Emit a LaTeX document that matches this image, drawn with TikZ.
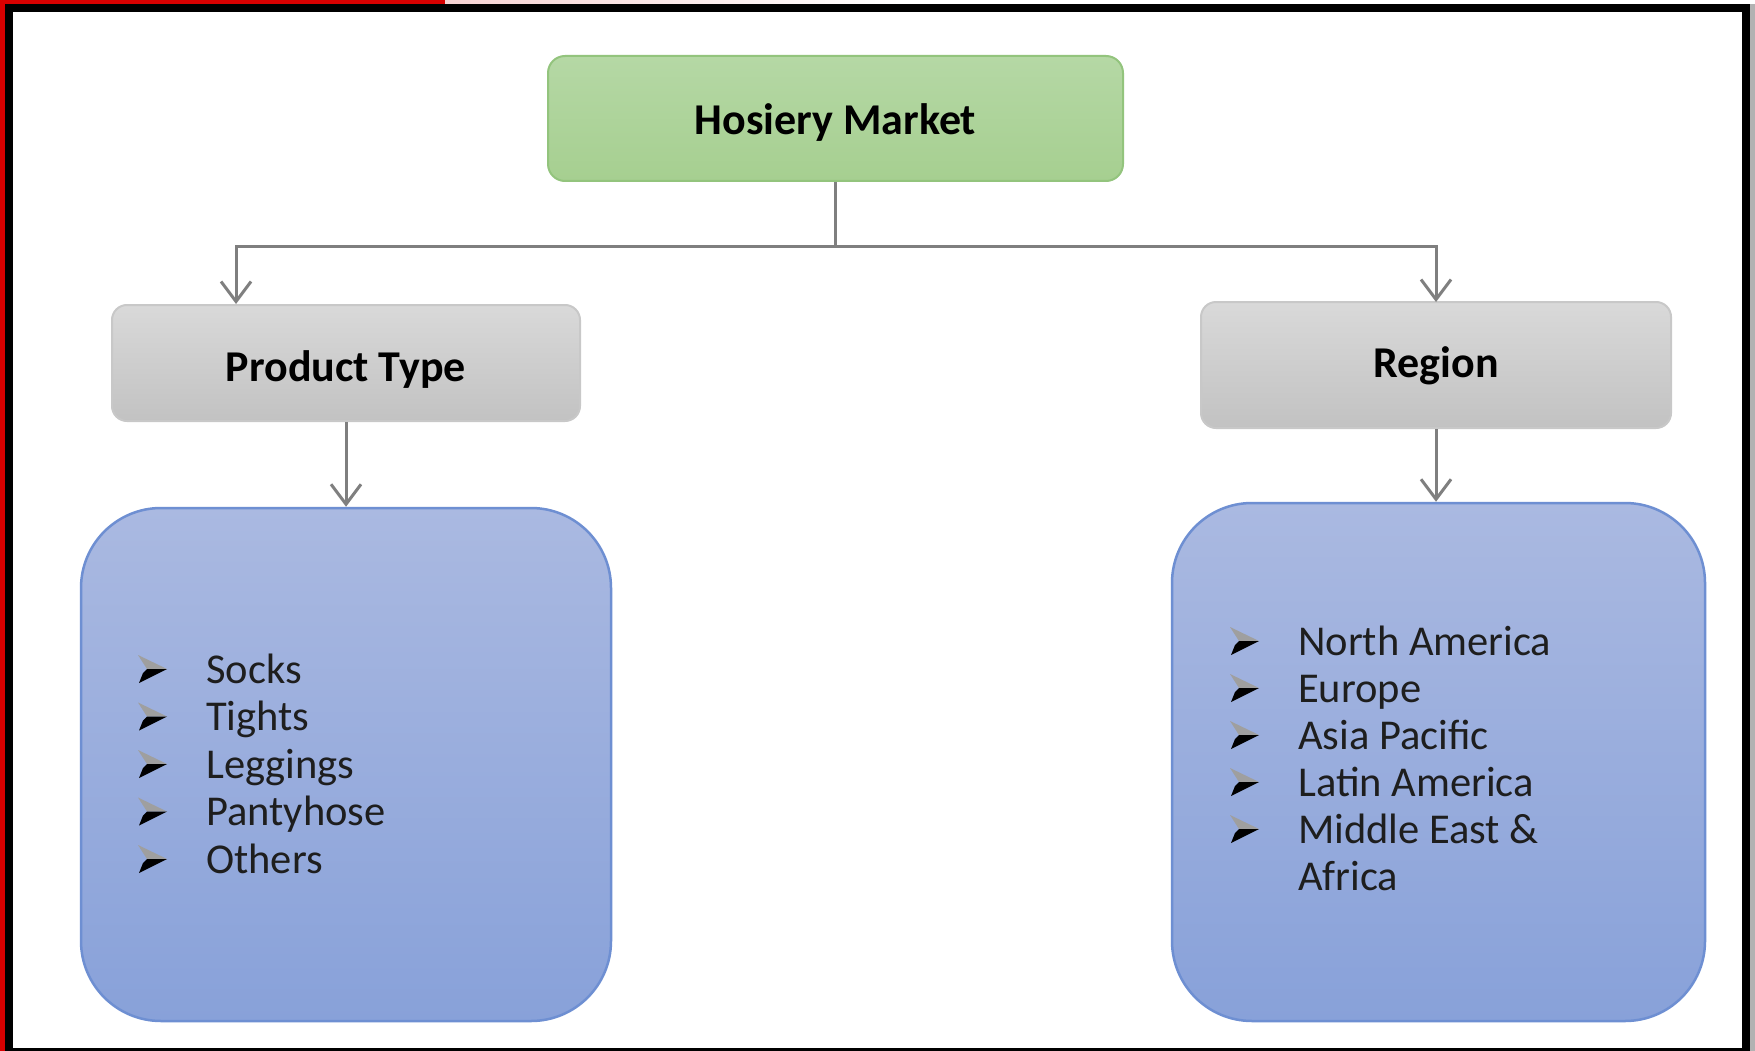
\documentclass[tikz,border=0pt]{standalone}
\usepackage{fontspec}
\setmainfont{Carlito}
\usetikzlibrary{arrows.meta,calc}
\definecolor{grnfillA}{HTML}{B5D8A5}
\definecolor{grnfillB}{HTML}{A6CF90}
\definecolor{grnline}{HTML}{93C47D}
\definecolor{gryfillA}{HTML}{D9D9D9}
\definecolor{gryfillB}{HTML}{C2C2C2}
\definecolor{gryline}{HTML}{C8C8C8}
\definecolor{blufillA}{HTML}{AAB9E1}
\definecolor{blufillB}{HTML}{88A1D9}
\definecolor{bluline}{HTML}{6E8FD2}
\definecolor{conn}{HTML}{7F7F7F}
\definecolor{txt}{HTML}{1E1E1E}
\definecolor{topred}{HTML}{D80000}
\definecolor{toppink}{HTML}{F6D2D2}
\tikzset{
  greenbox/.style={draw=grnline,line width=2pt,rounded corners=17pt,top color=grnfillA,bottom color=grnfillB,inner sep=0pt},
  graybox/.style={draw=gryline,line width=2pt,rounded corners=15pt,top color=gryfillA,bottom color=gryfillB,inner sep=0pt},
  bluebox/.style={draw=bluline,line width=2.5pt,rounded corners=80pt,top color=blufillA,bottom color=blufillB,inner sep=0pt},
  headtxt/.style={font=\fontsize{44}{50}\selectfont\bfseries,text=black,text height=27pt,text depth=0pt},
  itemtxt/.style={font=\fontsize{42.5}{47}\selectfont,text=txt,anchor=base west,inner sep=0pt},
  arr/.style={draw=conn,line width=3pt,-{Straight Barb[length=20pt,width=30pt]}},
  bul/.pic={
    \fill[gray!75] (0,-28) -- (29,-14) -- (9,-14) -- cycle;
    \fill[black] (9,-14) -- (29,-14) -- (1,0) -- (5,-10) -- cycle;
  }
}
\begin{document}
\begin{tikzpicture}[x=1pt,y=-1pt]
\useasboundingbox (0,0) rectangle (1755,1051);
% frame
\fill[white] (0,0) rectangle (1755,1051);
\shade[left color=toppink,right color=white] (445,0) rectangle (900,4);
\fill[topred] (0,0) rectangle (5,1051);
\fill[topred] (0,0) rectangle (445,4);
\fill[black] (5,4) rectangle (13,1051);
\fill[black] (5,4) rectangle (1750,12);
\fill[black] (1742,4) rectangle (1750,1051);
\fill[black] (5,1048) rectangle (1750,1051);
\fill[gray!60] (1750,4) rectangle (1755,1051);
% boxes
\node[greenbox,minimum width=575pt,minimum height=125pt,headtxt] (hm) at (835.5,118.5) {\raisebox{-2.5pt}{Hosiery Market}};
\node[graybox,minimum width=468pt,minimum height=116pt,headtxt] (pt) at (346,363) {\raisebox{-5pt}{Product Type}};
\node[graybox,minimum width=470pt,minimum height=126pt,headtxt] (rg) at (1436,365) {\raisebox{1pt}{Region}};
\node[bluebox,minimum width=530pt,minimum height=513pt] (bl) at (346,764.5) {};
\node[bluebox,minimum width=533pt,minimum height=518pt] (br) at (1438.5,762) {};
% connectors
\coordinate (ptin) at (236,304);
\coordinate (rgin) at (1436,302);
\draw[arr] (hm.south) -- ++(0,64) -| (ptin);
\draw[arr] (hm.south) -- ++(0,64) -| (rgin);
\draw[arr] (pt.south) -- (pt.south |- bl.north);
\draw[arr] (rg.south) -- (rg.south |- br.north);
% left items
\foreach \t [count=\i from 0] in {Socks,Tights,Leggings,Pantyhose,Others}{
  \pgfmathsetmacro{\yy}{683+47.5*\i}
  \pic at (138,\yy) {bul};
  \node[itemtxt] (l\i) at (206,\yy) {\t};
}
% right items
\foreach \t [count=\i from 0] in {North America,Europe,Asia Pacific,Latin America,Middle East \&}{
  \pgfmathsetmacro{\yy}{655+47*\i}
  \pic at (1230,\yy) {bul};
  \node[itemtxt] (r\i) at (1298,\yy) {\t};
}
\node[itemtxt] (r5) at (1298,890) {Africa};
\end{tikzpicture}
\end{document}
